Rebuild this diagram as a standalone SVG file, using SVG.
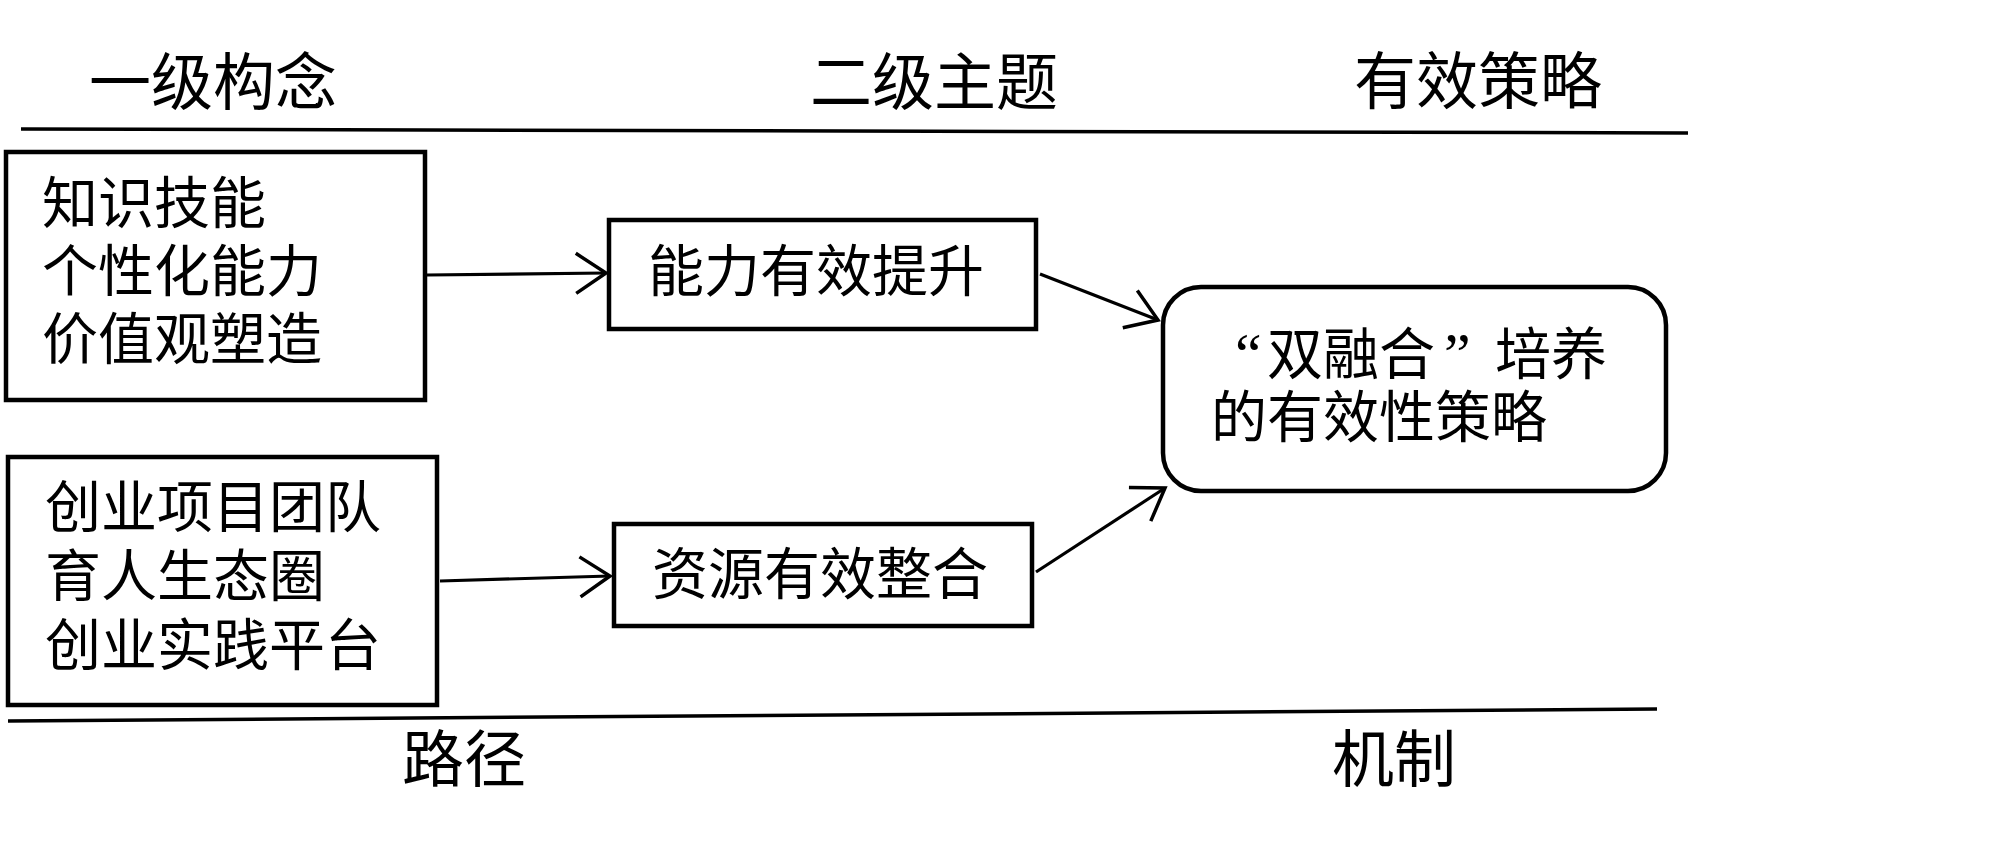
<svg xmlns="http://www.w3.org/2000/svg" width="2000" height="852" viewBox="0 0 2000 852">
<style>
text{font-family:"Liberation Sans","Noto Sans CJK SC","Noto Sans CJK JP",sans-serif;fill:#000}
.t{font-size:62px}
.b{font-size:56px}
.q{font-family:"Liberation Serif",serif;font-size:60px}
.box{fill:#fff;stroke:#000;stroke-width:4.5}
.rule{stroke:#000;stroke-width:3.5;fill:none}
.con{stroke:#000;stroke-width:3.2;fill:none}
</style>
<defs>
<marker id="arr" markerUnits="userSpaceOnUse" viewBox="0 0 40 50" markerWidth="40" markerHeight="50" refX="33" refY="22" orient="auto" overflow="visible">
<path d="M3,2 L33,22 L3,42" fill="none" stroke="#000" stroke-width="3.5"/>
</marker>
</defs>
<rect width="2000" height="852" fill="#fff"/>
<g id="headers">
<text class="t" x="89" y="105">一级构念</text>
<text class="t" x="810" y="105">二级主题</text>
<text class="t" x="1354" y="104">有效策略</text>
<line class="rule" x1="21" y1="129" x2="1688" y2="133"/>
<line class="rule" x1="8" y1="721" x2="1657" y2="709"/>
<text class="t" x="402" y="782">路径</text>
<text class="t" x="1332" y="782">机制</text>
</g>
<g id="n1">
<rect class="box" x="6" y="152" width="419" height="248"/>
<text class="b" x="42" y="223">知识技能<tspan x="42" dy="68">个性化能力</tspan><tspan x="42" dy="68">价值观塑造</tspan></text>
</g>
<g id="n2">
<rect class="box" x="609" y="220" width="427" height="109"/>
<text class="b" x="648" y="291">能力有效提升</text>
</g>
<g id="n3">
<rect class="box" x="614" y="524" width="418" height="102"/>
<text class="b" x="652" y="594">资源有效整合</text>
</g>
<g id="n4">
<rect class="box" x="8" y="457" width="429" height="248"/>
<text class="b" x="45" y="527">创业项目团队<tspan x="45" dy="69">育人生态圈</tspan><tspan x="45" dy="69">创业实践平台</tspan></text>
</g>
<g id="n5">
<rect class="box" x="1163" y="287" width="503" height="204" rx="38" ry="38"/>
<text class="b" x="1236" y="374"><tspan class="q" x="1235">“</tspan><tspan x="1267">双融合</tspan><tspan class="q" x="1444">”</tspan><tspan x="1495">培养</tspan><tspan x="1211" dy="63">的有效性策略</tspan></text>
</g>
<g id="connectors">
<line class="con" x1="427" y1="275" x2="606" y2="273" marker-end="url(#arr)"/>
<line class="con" x1="1040" y1="274" x2="1158" y2="320" marker-end="url(#arr)"/>
<line class="con" x1="440" y1="581" x2="610" y2="576" marker-end="url(#arr)"/>
<line class="con" x1="1036" y1="572" x2="1165" y2="488" marker-end="url(#arr)"/>
</g>
</svg>
